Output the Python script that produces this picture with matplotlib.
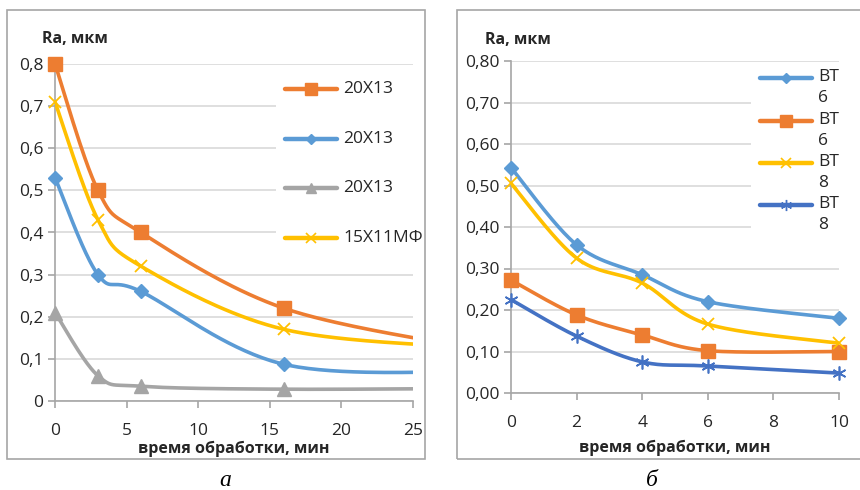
import numpy as np
import matplotlib
matplotlib.use("Agg")
import matplotlib.pyplot as plt
from matplotlib.patches import Rectangle
from matplotlib.lines import Line2D

plt.rcParams['font.family'] = ['Open Sans', 'DejaVu Sans']

# --- панель а ---
t_a = [0, 3, 6, 16, 30]
ra_a_orange = [0.80, 0.50, 0.40, 0.22, 0.12]
ra_a_blue = [0.53, 0.30, 0.26, 0.087, 0.07]
ra_a_gray = [0.21, 0.06, 0.035, 0.028, 0.03]
ra_a_yellow = [0.71, 0.43, 0.32, 0.17, 0.125]
labels_a = ['20Х13', '20Х13', '20Х13', '15Х11МФ']

# --- панель б ---
t_b = [0, 2, 4, 6, 10]
ra_b_lblue = [0.543, 0.357, 0.285, 0.22, 0.18]
ra_b_orange = [0.272, 0.188, 0.14, 0.102, 0.10]
ra_b_yellow = [0.505, 0.325, 0.265, 0.166, 0.12]
ra_b_dblue = [0.225, 0.137, 0.075, 0.065, 0.048]
labels_b = ['ВТ\n6', 'ВТ\n6', 'ВТ\n8', 'ВТ\n8']

ORANGE = '#ED7D31'
BLUE = '#5B9BD5'
GRAY = '#A5A5A5'
YELLOW = '#FFC000'
DBLUE = '#4472C4'
GRID = '#D9D9D9'
SPINE = '#A6A6A6'


def smooth(x, y, n=40):
    # сглаживание как в Excel (Catmull-Rom через Безье)
    p = np.column_stack([x, y]).astype(float)
    out = []
    for i in range(len(p) - 1):
        p0 = p[i - 1] if i > 0 else p[i]
        p1, p2 = p[i], p[i + 1]
        p3 = p[i + 2] if i + 2 < len(p) else p[i + 1]
        c1 = p1 + (p2 - p0) / 6
        c2 = p2 - (p3 - p1) / 6
        s = np.linspace(0, 1, n)[:, None]
        seg = ((1 - s) ** 3) * p1 + 3 * (1 - s) ** 2 * s * c1 + 3 * (1 - s) * s ** 2 * c2 + s ** 3 * p2
        out.append(seg if i == 0 else seg[1:])
    seg = np.vstack(out)
    return seg[:, 0], seg[:, 1]


def series(ax, x, y, color, marker, ms, mew=1.0):
    sx, sy = smooth(x, y)
    ax.plot(sx, sy, color=color, lw=2.6, zorder=3, solid_capstyle='round')
    xlim = ax.get_xlim()
    xs = [v for v in x if v <= xlim[1]]
    ys = [b for a, b in zip(x, y) if a <= xlim[1]]
    ax.plot(xs, ys, ls='none', marker=marker, ms=ms, color=color,
            mfc=color, mec=color, mew=mew, zorder=4, clip_on=False)


def style_axis(ax, xlim, xticks, ylabels, lpad):
    ax.set_xlim(*xlim)
    ax.set_ylim(0, 0.8)
    ax.set_xticks(xticks)
    ax.set_yticks(np.arange(0, 0.81, 0.1))
    ax.set_yticklabels(ylabels)
    for s in ['top', 'right']:
        ax.spines[s].set_visible(False)
    for s in ['left', 'bottom']:
        ax.spines[s].set_color(SPINE)
        ax.spines[s].set_linewidth(1.2)
    ax.yaxis.grid(True, color=GRID, lw=1.2)
    ax.set_axisbelow(True)
    ax.tick_params(axis='both', colors=SPINE, labelcolor='#262626', labelsize=12.5,
                   length=5, width=1.2)
    ax.tick_params(axis='x', pad=11)
    ax.set_xlabel('время обработки, мин', fontsize=11.5, fontweight='bold',
                  color='#262626', labelpad=lpad)


def legend(fig, x0, x1, xt, rows, items):
    for (lab, color, marker, ms, mew), yr in zip(items, rows):
        yf = 1 - yr / H
        fig.add_artist(Line2D([x0 / W, x1 / W], [yf, yf], color=color, lw=3.2,
                              solid_capstyle='round'))
        fig.add_artist(Line2D([(x0 + x1) / 2 / W], [yf], ls='none', marker=marker,
                              ms=ms, color=color, mec=color, mew=mew))
        if '\n' in lab:
            fig.text(xt / W, yf + 9 / H, lab, fontsize=12.5, color='#262626',
                     va='top', linespacing=1.45)
        else:
            fig.text(xt / W, yf, lab, fontsize=12.5, color='#262626', va='center')


W, H = 860, 490
fig = plt.figure(figsize=(W / 100, H / 100), dpi=100)

# рамки
fig.add_artist(Rectangle((7 / W, 1 - 459 / H), 418 / W, 449 / H, fill=False,
                         ec=SPINE, lw=1.2, transform=fig.transFigure))
fig.add_artist(Rectangle((457 / W, 1 - 459 / H), 410 / W, 449 / H, fill=False,
                         ec=SPINE, lw=1.2, transform=fig.transFigure))

# --- а ---
ax1 = fig.add_axes([55 / W, 1 - 401 / H, 358 / W, 337 / H])
style_axis(ax1, (0, 25), [0, 5, 10, 15, 20, 25],
           ['0', '0,1', '0,2', '0,3', '0,4', '0,5', '0,6', '0,7', '0,8'], 1)
ax1.add_patch(Rectangle((0.617, 0.43), 0.5, 0.56, transform=ax1.transAxes,
                        fc='white', ec='none', zorder=1, clip_on=False))
series(ax1, t_a, ra_a_orange, ORANGE, 's', 9.5)
series(ax1, t_a, ra_a_blue, BLUE, 'D', 7)
series(ax1, t_a, ra_a_gray, GRAY, '^', 9.5)
series(ax1, t_a, ra_a_yellow, YELLOW, 'x', 9, mew=1.3)
fig.text(42 / W, 1 - 39 / H, 'Ra, мкм', fontsize=11.5, fontweight='bold',
         color='#262626', va='center')
legend(fig, 285, 337, 343, [89, 139, 188, 238],
       [(labels_a[0], ORANGE, 's', 8, 1), (labels_a[1], BLUE, 'D', 5.5, 1),
        (labels_a[2], GRAY, '^', 7, 1), (labels_a[3], YELLOW, 'x', 7, 1.2)])

# --- б ---
ax2 = fig.add_axes([511 / W, 1 - 393 / H, 328 / W, 332 / H])
style_axis(ax2, (0, 10), [0, 2, 4, 6, 8, 10],
           ['0,00', '0,10', '0,20', '0,30', '0,40', '0,50', '0,60', '0,70', '0,80'], 6)
ax2.add_patch(Rectangle((0.732, 0.43), 0.4, 0.56, transform=ax2.transAxes,
                        fc='white', ec='none', zorder=1, clip_on=False))
series(ax2, t_b, ra_b_lblue, BLUE, 'D', 7.5)
series(ax2, t_b, ra_b_orange, ORANGE, 's', 10)
series(ax2, t_b, ra_b_yellow, YELLOW, 'x', 9, mew=1.3)
series(ax2, t_b, ra_b_dblue, DBLUE, (6, 2, 0), 10, mew=1.2)
fig.text(485 / W, 1 - 40 / H, 'Ra, мкм', fontsize=11.5, fontweight='bold',
         color='#262626', va='center')
legend(fig, 760, 812, 818, [78, 121, 163, 205],
       [(labels_b[0], BLUE, 'D', 5.5, 1), (labels_b[1], ORANGE, 's', 8, 1),
        (labels_b[2], YELLOW, 'x', 7, 1.2), (labels_b[3], DBLUE, (6, 2, 0), 8, 1)])

# подписи панелей
fig.text(225 / W, 1 - 480 / H, 'а', fontsize=17, style='italic', family='Liberation Serif',
         ha='center', va='center')
fig.text(652 / W, 1 - 480 / H, 'б', fontsize=17, style='italic', family='Liberation Serif',
         ha='center', va='center')

fig.savefig('out.png', dpi=100, facecolor='white')
